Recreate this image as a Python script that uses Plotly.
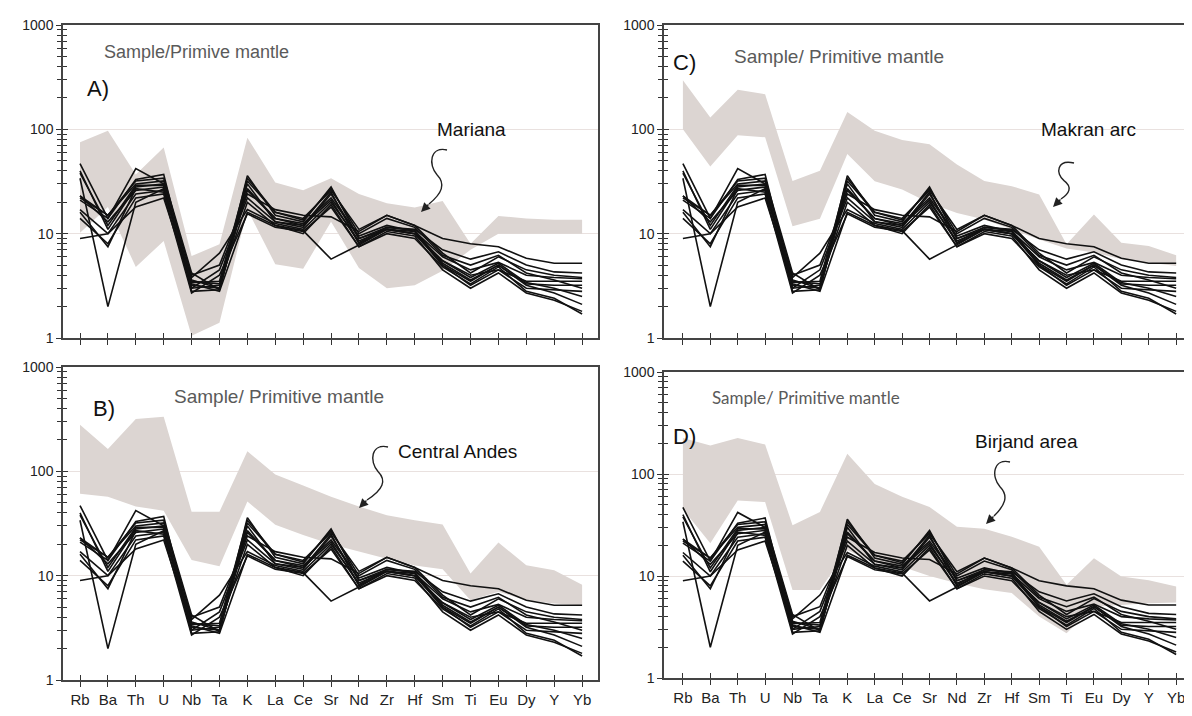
import plotly.graph_objects as go

W, H = 1192, 716
OFF = 8  # page body margin in the browser

elements = ["Rb", "Ba", "Th", "U", "Nb", "Ta", "K", "La", "Ce", "Sr",
            "Nd", "Zr", "Hf", "Sm", "Ti", "Eu", "Dy", "Y", "Yb"]

# sample / primitive mantle (same samples in every panel)
s01 = [23, 15, 30, 32, 4.0, 5.0, 24, 17, 15, 14.5, 10.5, 15, 12, 9.0, 8.0, 7.5, 5.8, 5.2, 5.2]
s02 = [47, 14, 33, 37, 3.2, 3.0, 36, 15, 13, 28, 9.0, 11.5, 11, 7.0, 5.7, 6.7, 5.0, 4.3, 4.2]
s03 = [40, 11, 28, 30, 2.8, 2.9, 30, 13, 12, 25, 8.0, 11, 10.5, 6.0, 4.5, 5.3, 4.0, 3.8, 3.7]
s04 = [34, 2.0, 20, 27, 3.5, 3.3, 20, 12, 10.7, 5.7, 7.8, 11, 10, 5.5, 4.0, 4.5, 3.5, 3.5, 3.5]
s05 = [23, 13, 26, 28, 3.0, 3.2, 27, 14, 12.5, 22, 9.5, 12, 10.5, 5.0, 3.5, 5.0, 3.3, 3.2, 3.2]
s06 = [17, 10, 24, 26, 3.8, 6.5, 17, 12.5, 11, 20, 8.5, 11, 10, 5.0, 3.2, 4.5, 3.0, 2.9, 2.8]
s07 = [14, 8.0, 22, 24, 2.7, 4.0, 15.5, 11.5, 10.5, 18, 7.5, 10.5, 9.5, 4.5, 3.0, 4.2, 2.7, 2.3, 1.8]
s08 = [9, 10, 18, 22, 3.3, 2.8, 16, 12, 10, 19, 7.5, 10, 9, 4.8, 3.3, 4.8, 2.8, 2.4, 1.7]
s09 = [22, 15, 32, 34, 4.2, 2.9, 32, 16, 14, 26, 11, 15, 12, 6.5, 4.2, 6.0, 4.5, 4.0, 3.8]
s10 = [38, 12, 29, 29, 3.0, 4.5, 22, 13, 11.5, 24, 9.0, 11, 10, 5.5, 3.8, 5.2, 3.4, 3.0, 2.5]
s11 = [16, 7.5, 27, 25, 3.6, 3.0, 26, 14, 12, 21, 8.2, 11.5, 10.8, 5.2, 3.6, 5.0, 3.2, 2.7, 2.1]
s12 = [21, 14, 42, 30, 3.4, 3.5, 34, 16, 13.5, 27, 10, 14, 11.5, 6.2, 5.0, 6.2, 4.2, 3.6, 3.0]
samples = [s01, s02, s03, s04, s05, s06, s07, s08, s09, s10, s11, s12]

# reference fields (upper / lower envelope)
mariana_hi = [75, 97, 37, 67, 6.1, 7.9, 83, 31, 26, 34, 24, 19.6, 17.8, 20.6, 8.0, 14.8, 14, 13.6, 13.6]
mariana_lo = [10.2, 18, 4.8, 8.5, 1.05, 1.4, 17, 5.1, 4.6, 13, 4.7, 3.0, 3.2, 4.4, 7.0, 10, 10, 10, 10]
andes_hi = [280, 164, 318, 333, 41, 41, 156, 93, 73, 57, 46, 38, 34, 31, 10.5, 20.8, 12.6, 11.3, 8.2]
andes_lo = [61, 57, 46, 42, 14.1, 12.3, 51.5, 30.7, 24.6, 20, 17, 14.5, 12.5, 11.5, 5.8, 7.0, 5.8, 5.4, 5.2]
makran_hi = [295, 130, 240, 217, 32, 40, 147, 97, 79, 72, 46, 32, 28.5, 23.7, 7.9, 15.3, 8.2, 7.6, 6.2]
makran_lo = [100, 44, 88, 84, 11.8, 13.9, 58, 31.8, 26.5, 19.7, 15.8, 13.7, 11, 8.8, 7.2, 6.6, 5.7, 5.3, 4.9]
birjand_hi = [226, 190, 226, 195, 31.5, 42.5, 158, 80, 60, 47.5, 30.4, 29, 24.2, 19.4, 8.2, 14.9, 9.9, 9.1, 7.9]
birjand_lo = [45, 21, 55, 53, 7.3, 7.3, 18, 13.3, 12.3, 10, 8.5, 7.4, 6.8, 4.0, 2.75, 5.0, 5.2, 5.4, 5.5]

panel_labels = ["A)", "B)", "C)", "D)"]
field_names = ["Mariana", "Central Andes", "Makran arc", "Birjand area"]

BAND = "#dcd5d2"
FONT = "Liberation Sans, Arial, sans-serif"

fig = go.Figure()

def px(x):
    return (x - OFF) / W

def py(y):
    return 1 - (y - OFF) / H

panels = {
    "A": dict(n=1, dom_x=[px(63), px(598)], dom_y=[py(338), py(25)],
              rng=[-0.61, 18.57], hi=mariana_hi, lo=mariana_lo, labels=False),
    "B": dict(n=2, dom_x=[px(63), px(598)], dom_y=[py(680), py(367)],
              rng=[-0.61, 18.57], hi=andes_hi, lo=andes_lo, labels=True),
    "C": dict(n=3, dom_x=[px(664), px(1200)], dom_y=[py(338), py(25)],
              rng=[-0.69, 18.87], hi=makran_hi, lo=makran_lo, labels=False),
    "D": dict(n=4, dom_x=[px(664), px(1200)], dom_y=[py(678), py(372)],
              rng=[-0.69, 18.87], hi=birjand_hi, lo=birjand_lo, labels=True),
}

idx = list(range(len(elements)))
minor_vals = [m * 10 ** d for d in range(3) for m in range(2, 10)]

def sfx(n):
    return "" if n == 1 else str(n)

layout_axes = {}
for key, p in panels.items():
    n = p["n"]
    xa, ya = "x" + sfx(n), "y" + sfx(n)
    xs = idx + idx[::-1]
    ys = p["hi"] + p["lo"][::-1]
    fig.add_trace(go.Scatter(x=xs, y=ys, xaxis=xa, yaxis=ya, fill="toself",
                             fillcolor=BAND, line=dict(width=0), mode="lines",
                             hoverinfo="skip", showlegend=False))
    for s in samples:
        fig.add_trace(go.Scatter(x=idx, y=s, xaxis=xa, yaxis=ya, mode="lines",
                                 line=dict(color="#111111", width=1.6),
                                 showlegend=False))
    layout_axes["xaxis" + sfx(n)] = dict(
        domain=p["dom_x"], range=p["rng"], anchor=ya, automargin=False,
        tickmode="array", tickvals=idx, ticktext=elements,
        showticklabels=p["labels"], ticks="outside", ticklen=5, tickwidth=1.2,
        tickcolor="#333", showline=True, linecolor="#444", linewidth=1.5,
        mirror=True, showgrid=False, zeroline=False,
        tickfont=dict(family=FONT, size=15, color="#222"), fixedrange=True)
    layout_axes["yaxis" + sfx(n)] = dict(
        domain=p["dom_y"], type="log", range=[0, 3], anchor=xa, automargin=False,
        tickmode="array", tickvals=[1, 10, 100, 1000], ticktext=["1", "10", "100", "1000"],
        ticks="outside", ticklen=5, tickwidth=1.2, tickcolor="#333",
        minor=dict(tickmode="array", tickvals=minor_vals, ticks="outside", ticklen=4,
                   tickcolor="#333", tickwidth=1, showgrid=False),
        showline=True, linecolor="#444", linewidth=1.5, mirror=True,
        showgrid=True, gridcolor="#e9e1df", gridwidth=1, zeroline=False,
        tickfont=dict(family=FONT, size=14, color="#222"), fixedrange=True)
    # overlay axes giving inside ticks, so the ticks cross the axis lines
    m = n + 4
    layout_axes["xaxis" + str(m)] = dict(
        overlaying=xa, anchor=ya, range=p["rng"], automargin=False,
        tickmode="array", tickvals=idx, showticklabels=False, ticks="inside",
        ticklen=5, tickwidth=1.2, tickcolor="#333", showline=False,
        showgrid=False, zeroline=False, fixedrange=True)
    layout_axes["yaxis" + str(m)] = dict(
        overlaying=ya, anchor=xa, type="log", range=[0, 3], automargin=False,
        tickmode="array", tickvals=[1, 10, 100, 1000], showticklabels=False,
        ticks="inside", ticklen=5, tickwidth=1.2, tickcolor="#333",
        minor=dict(tickmode="array", tickvals=minor_vals, ticks="inside", ticklen=4,
                   tickcolor="#333", tickwidth=1, showgrid=False),
        showline=False, showgrid=False, zeroline=False, fixedrange=True)
    fig.add_trace(go.Scatter(x=[None], y=[None], xaxis="x" + str(m), yaxis="y" + str(m),
                             mode="lines", showlegend=False, hoverinfo="skip"))

fig.update_layout(**layout_axes)

ann = []
shapes = []

def text(x, y, s, size, color="#111", family=FONT):
    ann.append(dict(x=px(x), y=py(y), xref="paper", yref="paper", text=s, showarrow=False,
                    font=dict(family=family, size=size, color=color),
                    xanchor="center", yanchor="middle"))

# subtitles
text(196, 52, "Sample/Primive mantle", 18, "#5a5a5a")
text(279, 396, "Sample/ Primitive mantle", 19, "#5a5a5a")
text(839, 57, "Sample/ Primitive mantle", 19, "#5a5a5a")
text(806, 398, "Sample/ Primitive mantle", 17, "#5a5a5a", "Lato, Open Sans, sans-serif")

# panel letters
text(98, 88, panel_labels[0], 22)
text(104, 408, panel_labels[1], 22)
text(684, 62, panel_labels[2], 22)
text(684, 436, panel_labels[3], 22)

# field names
text(471, 130, field_names[0], 19)
text(457, 451, field_names[1], 19)
text(1088, 130, field_names[2], 19)
text(1026, 441, field_names[3], 19)

def squiggle(sx, sy, tx, ty):
    # curved arrow from (sx, sy) to tip (tx, ty) in pixels
    dy = ty - sy
    p0 = (sx, sy)
    c1 = (sx - 17, sy - 4)
    c2 = (sx - 19, sy + 0.24 * dy)
    mid = (sx - 10, sy + 0.40 * dy)
    c3 = (sx - 1, sy + 0.55 * dy)
    c4 = (sx - 5, sy + 0.70 * dy)
    e = (tx + 8, ty - 8)
    def P(pt):
        return f"{px(pt[0]):.5f},{py(pt[1]):.5f}"
    path = f"M {P(p0)} C {P(c1)} {P(c2)} {P(mid)} C {P(c3)} {P(c4)} {P(e)}"
    shapes.append(dict(type="path", xref="paper", yref="paper", path=path,
                       line=dict(color="#222", width=1.4)))
    ann.append(dict(x=px(tx), y=py(ty), xref="paper", yref="paper", ax=9, ay=-9,
                    axref="pixel", ayref="pixel", text="", showarrow=True,
                    arrowhead=2, arrowsize=1.3, arrowwidth=1.4, arrowcolor="#222"))

squiggle(447, 150, 421, 212)
squiggle(388, 447, 359, 508)
squiggle(1074, 163, 1053, 207)
squiggle(1010, 462, 986, 524)

fig.update_layout(annotations=ann, shapes=shapes, width=W, height=H,
                  margin=dict(l=0, r=0, t=0, b=0, autoexpand=False), paper_bgcolor="white",
                  plot_bgcolor="white", showlegend=False)

fig.write_html("out.html")
